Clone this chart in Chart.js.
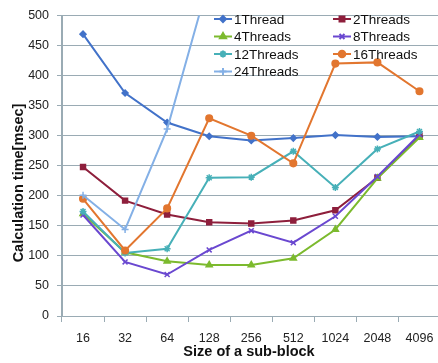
<!DOCTYPE html>
<html>
<head>
<meta charset="utf-8">
<script src="https://cdn.jsdelivr.net/npm/chart.js@4.4.0/dist/chart.umd.min.js"></script>
<style>
    body { margin: 0; overflow: hidden; background: #fff; }
    #caixa { width: 446px; height: 363px; position: relative; }
</style>
</head>
<body>
<div id="caixa"><canvas id="graficoBlocos"></canvas></div>
<script>
// dados
const blocos = ['16', '32', '64', '128', '256', '512', '1024', '2048', '4096'];
const nomesSeries = ['1Thread', '2Threads', '4Threads', '8Threads', '12Threads', '16Threads', '24Threads'];
const t1 = [469, 371, 322, 299, 292, 296, 301, 298, 299];
const t2 = [248, 192, 169, 156, 154, 159, 176, 230, 300];
const t4 = [170, 106, 91, 85, 85, 96, 144, 229, 297];
const t8 = [168, 90, 69, 110, 142, 122, 166, 232, 302];
const t12 = [174, 105, 112, 230, 231, 274, 214, 278, 307];
const t16 = [195, 109, 179, 329, 300, 254, 420, 422, 374];
const t24 = [201, 144, 311, 560, null, null, null, null, null];
const ticksY = [0, 50, 100, 150, 200, 250, 300, 350, 400, 450, 500];

const cores = ['#4272C9', '#8E1F3C', '#7CBA2E', '#6A48D0', '#47B0B8', '#E2762F', '#84B0E6'];
const marcadores = ['rectRot', 'rect', 'triangle', 'crossRot', 'star', 'circle', 'cross'];
const raios = [3, 3.5, 3.5, 3.5, 3.5, 3.3, 3.5];
const valores = [t1, t2, t4, t8, t12, t16, t24];

const fonte = '"Liberation Sans", Arial, sans-serif';
const corGrade = '#9aabb4';

function criarSerie(i) {
    return {
        label: nomesSeries[i],
        data: valores[i],
        borderColor: cores[i],
        backgroundColor: cores[i],
        borderWidth: 2,
        pointStyle: marcadores[i],
        pointRadius: raios[i],
        pointBorderWidth: 1.5,
        tension: 0,
        spanGaps: false,
        order: 10 - i
    };
}

// legenda em duas colunas dentro da area do grafico + titulos dos eixos
const legendaETitulos = {
    id: 'legendaETitulos',
    afterDraw(chart) {
        const ctx = chart.ctx;
        ctx.save();
        ctx.font = '13.5px ' + fonte;
        ctx.textBaseline = 'middle';
        ctx.textAlign = 'left';
        const colX = [214, 333];
        const linhaY = [19, 36.5, 54, 71.5];
        nomesSeries.forEach((nome, i) => {
            const x = colX[i % 2];
            const y = linhaY[Math.floor(i / 2)];
            ctx.strokeStyle = cores[i];
            ctx.lineWidth = 2;
            ctx.beginPath();
            ctx.moveTo(x, y);
            ctx.lineTo(x + 18, y);
            ctx.stroke();
            ctx.fillStyle = cores[i];
            Chart.helpers.drawPoint(ctx, {
                pointStyle: marcadores[i],
                radius: raios[i],
                borderWidth: 1.5,
                rotation: 0
            }, x + 9, y);
            ctx.fillStyle = '#111';
            ctx.fillText(nome, x + 20, y + 1);
        });

        ctx.font = 'bold 14.5px ' + fonte;
        ctx.fillStyle = '#111';
        ctx.textAlign = 'center';
        ctx.fillText('Size of a sub-block', 249, 352);

        ctx.translate(19, 183);
        ctx.rotate(-Math.PI / 2);
        ctx.fillText('Calculation time[msec]', 0, 0);
        ctx.restore();
    }
};

document.addEventListener('DOMContentLoaded', () => {
    const grafico = document.getElementById('graficoBlocos');
    new Chart(grafico, {
        type: 'line',
        data: {
            labels: blocos,
            datasets: nomesSeries.map((n, i) => criarSerie(i))
        },
        options: {
            responsive: true,
            maintainAspectRatio: false,
            animation: false,
            layout: {
                padding: { top: 15, right: 5, left: 0, bottom: 0 }
            },
            plugins: {
                legend: { display: false },
                tooltip: { enabled: false }
            },
            scales: {
                x: {
                    offset: true,
                    afterFit(scale) { scale.height = 47; },
                    grid: {
                        offset: true,
                        drawOnChartArea: false,
                        tickLength: 6,
                        color: corGrade
                    },
                    border: { color: corGrade, width: 1 },
                    ticks: {
                        padding: 9,
                        color: '#222',
                        font: { family: fonte, size: 12.5 },
                        maxRotation: 0
                    }
                },
                y: {
                    min: 0,
                    max: 500,
                    afterFit(scale) { scale.width = 62; },
                    afterBuildTicks(scale) {
                        scale.ticks = ticksY.map(v => ({ value: v }));
                    },
                    grid: {
                        color: corGrade,
                        lineWidth: 1,
                        tickLength: 5
                    },
                    border: { color: corGrade, width: 2 },
                    ticks: {
                        padding: 8,
                        color: '#222',
                        font: { family: fonte, size: 12.5 }
                    }
                }
            }
        },
        plugins: [legendaETitulos]
    });
});
</script>
</body>
</html>
